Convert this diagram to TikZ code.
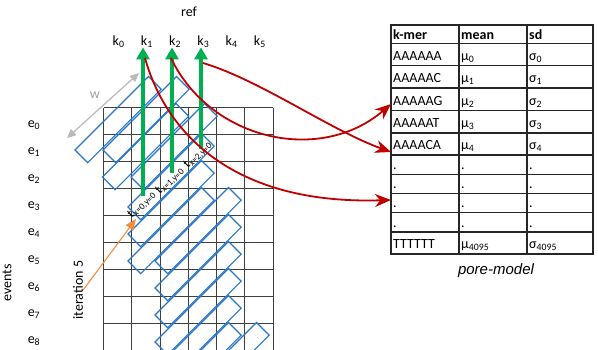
\documentclass[tikz,border=0pt]{standalone}
\usepackage{fontspec}
\setmainfont{Carlito}
\newfontfamily\arialfont{Liberation Sans}
\usetikzlibrary{arrows.meta,calc}

\definecolor{bandblue}{RGB}{40,118,200}
\definecolor{arrgreen}{RGB}{0,176,80}
\definecolor{arrred}{RGB}{192,0,0}
\definecolor{iterorange}{RGB}{244,140,60}

\tikzset{
  gridline/.style={black!75, line width=0.8pt},
  band/.style={draw=bandblue, line width=1.1pt},
  tableline/.style={black!85, line width=1.3pt},
  lab/.style={font=\fontsize{14}{16}\selectfont, inner sep=0pt},
  cell/.style={font=\fontsize{14}{16}\selectfont, anchor=base west, inner sep=2pt},
  tlab/.style={font=\fontsize{13}{14}\selectfont, inner sep=0pt, rotate=45},
  greenarrow/.style={arrgreen, line width=4pt, -{Triangle[length=12pt,width=13pt]}},
  redarrow/.style={arrred, line width=1.8pt, -{Stealth[length=16pt,width=13pt]}},
}

\begin{document}
\begin{tikzpicture}[x=1pt, y=-1pt]
  \useasboundingbox (0,0) rectangle (598,349);
  \clip (0,0) rectangle (598,349);

  % Grid of events x reference k-mers
  \foreach \i in {0,...,6}
    \draw[gridline] (103.5+28.25*\i,107.5) -- (103.5+28.25*\i,352);
  \foreach \j in {0,...,9}
    \draw[gridline] (103.5,107.5+27*\j) -- (273,107.5+27*\j);

  % k-mer and event labels
  \node[lab] (ref) at (189,12) {ref};
  \foreach \i in {0,...,5}
    \node[lab, anchor=base] (k\i) at (118.6+28.25*\i,45) {k\textsubscript{\i}};
  \foreach \j in {0,...,8}
    \node[lab, anchor=base] (e\j) at (34,127+27*\j) {e\textsubscript{\j}};
  \node[lab, rotate=90] (events) at (7,283) {events};

  % Bands (left corner of each rotated box)
  \foreach \lx/\ly [count=\i from 0] in {75/150, 103/150, 102.5/177, 131/177, 128/207,
      128/234, 128/261, 155/261, 155/288, 155/315, 155/342, 155/369, 155/396, 183/396} {
    \coordinate (b\i) at (\lx,\ly);
    \draw[band] (b\i) -- ++(12.7,12.7) -- ++(73.5,-73.5) -- ++(-12.7,-12.7) -- cycle;
  }

  % Band width
  \coordinate (w1) at (67,138);
  \coordinate (w2) at (139,73);
  \draw[gray!55, line width=1.2pt, {Triangle[length=9pt,width=8pt]}-{Triangle[length=9pt,width=8pt]}] (w1) -- (w2);
  \node[lab, text=gray!75] (w) at (95,95) {w};

  % Cells of the current band
  \node[tlab] (t0) at (142,205) {t\textsubscript{x=0,y=0}};
  \node[tlab] (t1) at (170,181) {t\textsubscript{x=1,y=0}};
  \node[tlab] (t2) at (198,155) {t\textsubscript{x=2,y=0}};

  % iteration pointer
  \node[lab, rotate=90] (it5) at (78,290) {iteration 5};
  \draw[iterorange, line width=1.1pt, -{Triangle[length=11pt,width=9pt]}] (it5.south) -- ($(b4)+(8,12)$);

  % Cell to k-mer arrows
  \coordinate (g1) at (143,196);
  \coordinate (g2) at (172,173);
  \coordinate (g3) at (201,149);
  \foreach \n/\k in {1/1, 2/2, 3/3}
    \draw[greenarrow] (g\n) -- (g\n |- k\k.south);

  % Pore-model table
  \draw[tableline] (391,25) rectangle (593,254);
  \foreach \y in {43.5,65.5,88,110.5,133,155,174.3,193.5,212.7,232}
    \draw[tableline] (391,\y) -- (593,\y);
  \foreach \x in {459,527}
    \draw[tableline] (\x,25) -- (\x,254);

  \node[cell] (kh) at (391,39.5) {\textbf{k-mer}};
  \node[cell] (mh) at (459,39.5) {\textbf{mean}};
  \node[cell] (sh) at (527,39.5) {\textbf{sd}};
  \foreach \n/\yb/\km/\mv/\sv in {
      0/60/AAAAAA/{μ\textsubscript{0}}/{σ\textsubscript{0}},
      1/82.5/AAAAAC/{μ\textsubscript{1}}/{σ\textsubscript{1}},
      2/105/AAAAAG/{μ\textsubscript{2}}/{σ\textsubscript{2}},
      3/127.5/AAAAAT/{μ\textsubscript{3}}/{σ\textsubscript{3}},
      4/149.5/AAAACA/{μ\textsubscript{4}}/{σ\textsubscript{4}},
      5/169.3/./././,
      6/188.5/./././,
      7/207.7/./././,
      8/227/./././,
      9/248.5/TTTTTT/{μ\textsubscript{4095}}/{σ\textsubscript{4095}}} {
    \node[cell] (km\n) at (391,\yb) {\km};
    \node[cell] (mu\n) at (459,\yb) {\mv};
    \node[cell] (sd\n) at (527,\yb) {\sv};
  }
  \node[font=\arialfont\itshape\fontsize{15}{17}\selectfont] (pm) at (496,271) {pore-model};

  % k-mer lookups
  \coordinate (r1) at (145,58);
  \coordinate (r2) at (171,58);
  \coordinate (r3) at (203,63);
  \draw[redarrow] (r1) .. controls (165,130) and (230,205) .. ([yshift=7pt]km7.west);
  \draw[redarrow] (r2) .. controls (210,140) and (320,165) .. ([yshift=-3.5pt]km2.west);
  \draw[redarrow] (r3) .. controls (260,80) and (330,130) .. ([yshift=-7pt]km4.west);
\end{tikzpicture}
\end{document}
